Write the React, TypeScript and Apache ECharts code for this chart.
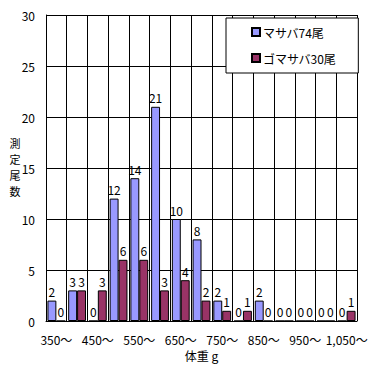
import React, { useEffect, useRef } from "react";
import * as echarts from "echarts";

const categories = ["350〜", "400〜", "450〜", "500〜", "550〜", "600〜", "650〜", "700〜", "750〜", "800〜", "850〜", "900〜", "950〜", "1,000〜", "1,050〜"];
const masaba = [2, 3, 0, 12, 14, 21, 10, 8, 2, 0, 2, 0, 0, 0, 0];
const gomasaba = [0, 3, 3, 6, 6, 3, 4, 2, 1, 1, 0, 0, 0, 0, 1];
const seriesNames = ["マサバ74尾", "ゴマサバ30尾"];
const yTicks = { min: 0, max: 30, interval: 5 };
const yAxisNameChars = ["測", "定", "尾", "数"];

const FONT = "'Noto Sans CJK JP', 'Noto Sans', sans-serif";

export default function App() {
  const ref = useRef<HTMLDivElement>(null);
  useEffect(() => {
    const chart = echarts.init(ref.current!, null, { renderer: "svg" });
    const label = { show: true, position: "top", color: "#000", fontSize: 12, fontFamily: FONT, distance: 3 };
    chart.setOption({
      animation: false,
      backgroundColor: "#fff",
      textStyle: { fontFamily: FONT },
      grid: { left: 46, right: 18, top: 15, bottom: 45, containLabel: false, outerBoundsMode: "none" },
      legend: {
        left: 226,
        top: 18,
        orient: "vertical",
        backgroundColor: "#fff",
        borderColor: "#000",
        borderWidth: 1,
        borderRadius: 0,
        padding: [8, 22, 9, 25],
        itemGap: 14,
        itemWidth: 8,
        itemHeight: 8,
        icon: "rect",
        textStyle: { fontSize: 12, color: "#000", fontFamily: FONT, padding: [0, 0, 0, -2] },
        data: seriesNames,
      },
      graphic: yAxisNameChars.map((ch, i) => ({
        type: "text",
        x: 15,
        y: 143 + i * 16,
        style: { text: ch, fontSize: 11, fontFamily: FONT, fill: "#000", align: "center", verticalAlign: "middle" },
      })),
      xAxis: {
        type: "category",
        data: categories,
        boundaryGap: true,
        name: "体重 g",
        nameLocation: "middle",
        nameGap: 27,
        nameTextStyle: { fontSize: 12, color: "#000", fontFamily: FONT },
        axisLine: { lineStyle: { color: "#000", width: 1 } },
        axisTick: { show: false, interval: 0 },
        axisLabel: { interval: 1, color: "#000", fontSize: 12, margin: 12, fontFamily: FONT },
        splitLine: { show: true, interval: 0, lineStyle: { color: "#000", width: 1 } },
      },
      yAxis: {
        type: "value",
        min: yTicks.min,
        max: yTicks.max,
        interval: yTicks.interval,
        axisLine: { show: true, lineStyle: { color: "#000", width: 1 } },
        axisTick: { show: false },
        axisLabel: { color: "#000", fontSize: 12, margin: 11, fontFamily: FONT },
        splitLine: { show: true, lineStyle: { color: "#000", width: 1 } },
      },
      series: [
        {
          name: seriesNames[0],
          type: "bar",
          data: masaba,
          barGap: "0%",
          barCategoryGap: "14%",
          itemStyle: { color: "#9999FF", borderColor: "#000", borderWidth: 1 },
          label,
        },
        {
          name: seriesNames[1],
          type: "bar",
          data: gomasaba,
          itemStyle: { color: "#993366", borderColor: "#000", borderWidth: 1 },
          label,
        },
      ],
    });
    return () => chart.dispose();
  }, []);
  return <div ref={ref} style={{ position: "fixed", left: 0, top: 0, width: 375, height: 366 }} />;
}
